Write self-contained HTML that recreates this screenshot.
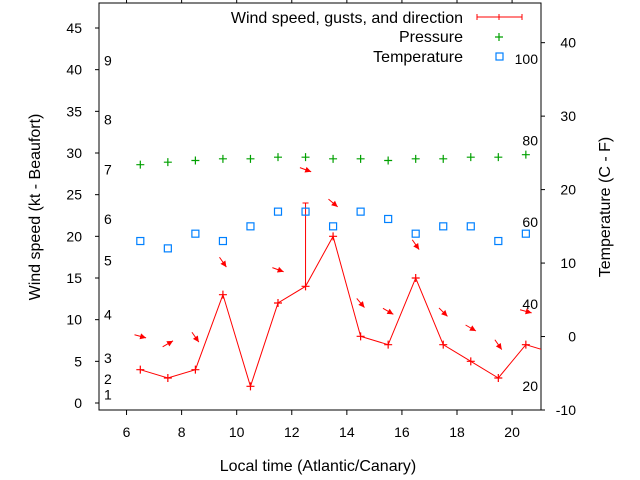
<!DOCTYPE html>
<html><head><meta charset="utf-8"><style>
body{margin:0;background:#fff;}
svg{display:block;font-family:"Liberation Sans",sans-serif;}
</style></head><body>
<svg id="chart" width="640" height="480" viewBox="0 0 640 480"></svg>
<script>
const hours = [6.5,7.5,8.5,9.5,10.5,11.5,12.5,13.5,14.5,15.5,16.5,17.5,18.5,19.5,20.5,21.5];
const windSpeed = [4,3,4,13,2,12,14,20,8,7,15,7,5,3,7,6];
const gustHour = [12.5];
const gustValue = [24];
const pressureHours = [6.5,7.5,8.5,9.5,10.5,11.5,12.5,13.5,14.5,15.5,16.5,17.5,18.5,19.5,20.5];
const pressure = [28.6,28.9,29.1,29.3,29.3,29.5,29.5,29.3,29.3,29.1,29.3,29.3,29.5,29.5,29.8];
const temperature = [13,12,14,13,15,17,17,15,17,16,14,15,15,13,14];
const arrowHours = [6.5,7.5,8.5,9.5,11.5,12.5,13.5,14.5,15.5,16.5,17.5,18.5,19.5,20.5];
const arrowLevel = [8.0,7.1,7.9,16.9,16,28,24,12,11,19,10.9,9,7,11];
const arrowAngle = [15,-30,55,55,20,20,40,50,30,55,45,30,55,15];
const leftTicks = [0,5,10,15,20,25,30,35,40,45];
const rightTicks = [-10,0,10,20,30,40];
const xTicks = [6,8,10,12,14,16,18,20];
const beaufortLabels = ["1","2","3","4","5","6","7","8","9"];
const beaufortLevels = [1,2.9,5.4,10.6,17.1,22.1,28,34,41.1];
const fahrenheitLabels = ["20","40","60","80","100"];
const fahrenheitLevels = [-6.7,4.4,15.6,26.7,37.8];

const L=99,R=541,T=3,B=410;
const X0=5,X1=21.05, YL0=-0.84, YL1=48, YR0=-10, YR1=45.4;
const sx=v=>L+(v-X0)/(X1-X0)*(R-L);
const syL=v=>B-(v-YL0)/(YL1-YL0)*(B-T);
const syR=v=>B-(v-YR0)/(YR1-YR0)*(B-T);
const svg=document.getElementById('chart');
const NS='http://www.w3.org/2000/svg';
function mk(tag,attrs,parent){const e=document.createElementNS(NS,tag);for(const k in attrs)e.setAttribute(k,attrs[k]);(parent||svg).appendChild(e);return e;}
function txt(s,x,y,anchor,size,parent){const e=mk('text',{x:x,y:y,'text-anchor':anchor||'start','font-size':size||14,fill:'#000'},parent);e.textContent=s;return e;}

const defs=mk('defs',{});
const cp=mk('clipPath',{id:'pc'},defs);
mk('rect',{x:L,y:T,width:R-L,height:B-T},cp);

const frame=mk('rect',{x:L,y:T,width:R-L,height:B-T,fill:'none',stroke:'#000','stroke-width':1});



leftTicks.forEach(v=>{const y=syL(v);mk('line',{x1:L-4,x2:L,y1:y,y2:y,stroke:'#000'});
 const t=txt(String(v),82,y+5,'end',14);
 
 });
rightTicks.forEach(v=>{const y=syR(v);mk('line',{x1:R,x2:R+4,y1:y,y2:y,stroke:'#000'});
 const t=txt(String(v),576,y+5,'end',14);
 
 });
xTicks.forEach(v=>{const x=sx(v);mk('line',{x1:x,x2:x,y1:B,y2:B+5,stroke:'#000'});mk('line',{x1:x,x2:x,y1:T-3,y2:T,stroke:'#000'});
 const t=txt(String(v),x,437,'middle',14);
 
 });

beaufortLabels.forEach((s,i)=>{const t=txt(s,104,syL(beaufortLevels[i])+5,'start',14);
 
 });
fahrenheitLabels.forEach((s,i)=>{const t=txt(s,538,syR(fahrenheitLevels[i])+5,'end',14);
 
 });

const g=mk('g',{'clip-path':'url(#pc)'});
const pts=hours.map((h,i)=>sx(h)+','+syL(windSpeed[i])).join(' ');
const wl=mk('polyline',{points:pts,fill:'none',stroke:'#f00','stroke-width':1},g);


function plus(x,y,c,p){mk('path',{d:`M${x-4},${y}h8M${x},${y-4}v8`,stroke:c,'stroke-width':1.2},p);}
hours.forEach((h,i)=>plus(sx(h),syL(windSpeed[i]),'#f00',g));
gustHour.forEach((h,i)=>{const x=sx(h);const gl=mk('path',{d:`M${x},${syL(windSpeed[hours.indexOf(h)])}V${syL(gustValue[i])}M${x-3},${syL(gustValue[i])}h6`,stroke:'#f00'},g);
 
 });
arrowHours.forEach((h,i)=>{const x=sx(h),y=syL(arrowLevel[i]);const a=arrowAngle[i]*Math.PI/180;
 const x0=x-6*Math.cos(a),y0=y-6*Math.sin(a),x1=x+6*Math.cos(a),y1=y+6*Math.sin(a);
 const ag=mk('g',{},g);
 
 
 mk('line',{x1:x0,y1:y0,x2:x1,y2:y1,stroke:'#f00'},ag);
 const hx=x1-6*Math.cos(a),hy=y1-6*Math.sin(a),px=-Math.sin(a)*3,py=Math.cos(a)*3;
 mk('polygon',{points:`${x1},${y1} ${hx+px},${hy+py} ${hx-px},${hy-py}`,fill:'#f00'},ag);});
pressureHours.forEach((h,i)=>{plus(sx(h),syL(pressure[i]),'#00a000',g);});
pressureHours.forEach((h,i)=>{const r=mk('rect',{x:sx(h)-3.5,y:syR(temperature[i])-3.5,width:7,height:7,fill:'none',stroke:'#0080ff','stroke-width':1.2},g);
 
 });

const lg=mk('g',{});


txt('Wind speed, gusts, and direction',463,23,'end',16,lg);
mk('path',{d:'M477,17H522M477,14v6M522,14v6M499,14v6',stroke:'#f00'},lg);
txt('Pressure',463,42,'end',16,lg);
plus(499,37,'#00a000',lg);
txt('Temperature',463,62,'end',16,lg);
mk('rect',{x:496,y:53,width:7,height:7,fill:'none',stroke:'#0080ff','stroke-width':1.2},lg);

const xt=txt('Local time (Atlantic/Canary)',318,471,'middle',16);


const yl=txt('Wind speed (kt - Beaufort)',0,0,'middle',16);
yl.setAttribute('transform','translate(40,207) rotate(-90)');


const yr=txt('Temperature (C - F)',0,0,'middle',16);
yr.setAttribute('transform','translate(610,207) rotate(-90)');


</script>
</body></html>
